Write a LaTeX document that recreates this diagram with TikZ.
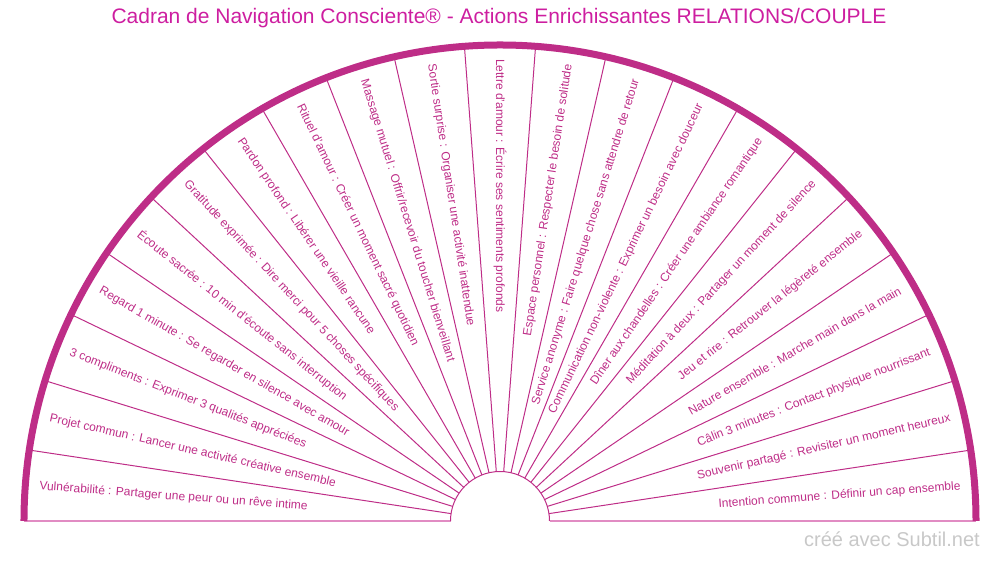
\documentclass[tikz,border=0pt]{standalone}
\usepackage{fontspec}
\setmainfont{Liberation Sans}
\definecolor{dial}{RGB}{190,45,135}
\definecolor{dialtitle}{RGB}{205,30,160}
\definecolor{dialbase}{RGB}{225,140,195}
\definecolor{creditgray}{RGB}{200,200,200}

\def\rin{49.5pt}
\def\rout{476pt}
\def\rtext{462pt}
\def\wedge{8.571428}
\def\alist{{0/{Vulnérabilité : Partager une peur ou un rêve intime}}, {1/{Projet commun : Lancer une activité créative ensemble}}, {2/{3 compliments : Exprimer 3 qualités appréciées}}, {3/{Regard 1 minute : Se regarder en silence avec amour}}, {4/{Écoute sacrée : 10 min d'écoute sans interruption}}, {5/{Gratitude exprimée : Dire merci pour 5 choses spécifiques}}, {6/{Pardon profond : Libérer une vieille rancune}}, {7/{Rituel d'amour : Créer un moment sacré quotidien}}, {8/{Massage mutuel : Offrir/recevoir du toucher bienveillant}}, {9/{Sortie surprise : Organiser une activité inattendue}}, {10/{Lettre d'amour : Écrire ses sentiments profonds}}, {11/{Espace personnel : Respecter le besoin de solitude}}, {12/{Service anonyme : Faire quelque chose sans attendre de retour}}, {13/{Communication non-violente : Exprimer un besoin avec douceur}}, {14/{Dîner aux chandelles : Créer une ambiance romantique}}, {15/{Méditation à deux : Partager un moment de silence}}, {16/{Jeu et rire : Retrouver la légèreté ensemble}}, {17/{Nature ensemble : Marche main dans la main}}, {18/{Câlin 3 minutes : Contact physique nourrissant}}, {19/{Souvenir partagé : Revisiter un moment heureux}}, {20/{Intention commune : Définir un cap ensemble}}}
\tikzstyle{spoke} = [draw, dial, line width=1pt]
\tikzstyle{base} = [draw, dialbase, line width=2pt]
\tikzstyle{rim} = [draw, dial, line width=7pt]
\tikzstyle{hub} = [draw, dial, line width=1pt]
\tikzstyle{action}=[text=dial, inner sep=0pt, font=\fontsize{12}{14}\selectfont]

\begin{document}
\begin{tikzpicture}[x=1pt, y=1pt]
  \useasboundingbox (-500,-40) rectangle (500,521);

  \foreach \k in {0,...,21} {
    \pgfmathsetmacro\a{180-\k*\wedge}
    \coordinate (in-\k) at (\a:\rin);
    \coordinate (out-\k) at (\a:\rout);
  }
  \foreach \k in {1,...,20} {
    \path[spoke] (in-\k) -- (out-\k);
  }
  \path[base] (in-0) -- (out-0);
  \path[base] (in-21) -- (out-21);

  \path[hub] (in-0) arc[start angle=180, end angle=0, radius=\rin];
  \path[rim] (out-0) arc[start angle=180, end angle=0, radius=\rout];

  \foreach \i/\txt in \alist {
    \pgfmathsetmacro\a{180-(\i+0.5)*\wedge}
    \ifnum\i<11
      \node[action, anchor=west, rotate=\a-180] (act-\i) at (\a:\rtext) {\txt};
    \else
      \node[action, anchor=east, rotate=\a] (act-\i) at (\a:\rtext) {\txt};
    \fi
  }

  \node[text=dialtitle, font=\fontsize{21}{25}\selectfont] (title) at (-1,502.5) {Cadran de Navigation Consciente® - Actions Enrichissantes RELATIONS/COUPLE};
  \node[text=creditgray, font=\fontsize{20}{24}\selectfont, anchor=base east, inner sep=0pt] (credit) at (480,-26) {créé avec Subtil.net};
\end{tikzpicture}
\end{document}
